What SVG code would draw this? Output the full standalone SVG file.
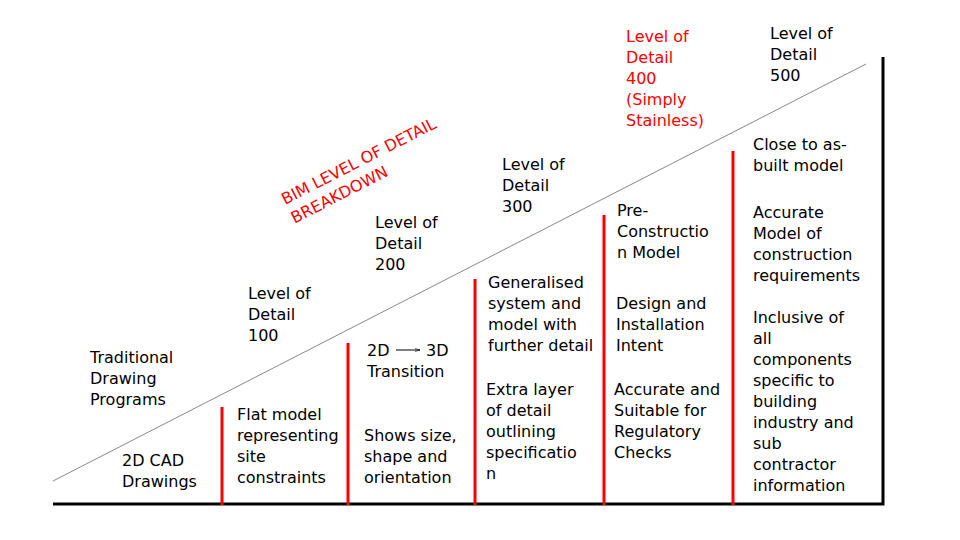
<svg xmlns="http://www.w3.org/2000/svg" width="960" height="540" viewBox="0 0 960 540">
<style>
text{font-family:"DejaVu Sans","Liberation Sans",sans-serif;font-size:16px;fill:#000}
.red{fill:#ff0000}
.bar{stroke:#ff0000;stroke-width:3}
.axis{stroke:#000;stroke-width:3;fill:none}
</style>
<defs>
<marker id="ah" viewBox="0 0 10 10" refX="10" refY="5" markerWidth="5" markerHeight="5" orient="auto"><path d="M0,2 L10,5 L0,8" fill="none" stroke="#000" stroke-width="1.2"/></marker>
</defs>
<rect width="960" height="540" fill="#fff"/>
<g id="connectors">
<line x1="53" y1="481" x2="866" y2="64" stroke="#888" stroke-width="1"/>
<polyline class="axis" points="53,504 883,504 883,57"/>
<line class="bar" x1="222" y1="407" x2="222" y2="505"/>
<line class="bar" x1="348" y1="343" x2="348" y2="505"/>
<line class="bar" x1="475" y1="279" x2="475" y2="505"/>
<line class="bar" x1="604" y1="215" x2="604" y2="505"/>
<line class="bar" x1="733" y1="151" x2="733" y2="505"/>
</g>
<g id="title"><text class="red" transform="translate(285,205) rotate(-27)"><tspan x="0" y="0">BIM LEVEL OF DETAIL</tspan><tspan x="0" y="21">BREAKDOWN</tspan></text></g>
<g id="traditional"><text><tspan x="90" y="363">Traditional</tspan><tspan x="90" y="384">Drawing</tspan><tspan x="90" y="405">Programs</tspan></text>
<text><tspan x="122" y="466">2D CAD</tspan><tspan x="122" y="487">Drawings</tspan></text></g>
<g id="lod100"><text><tspan x="248" y="299">Level of</tspan><tspan x="248" y="320">Detail</tspan><tspan x="248" y="341">100</tspan></text>
<text><tspan x="237" y="420">Flat model</tspan><tspan x="237" y="441">representing</tspan><tspan x="237" y="462">site</tspan><tspan x="237" y="483">constraints</tspan></text></g>
<g id="lod200"><text><tspan x="375" y="228">Level of</tspan><tspan x="375" y="249">Detail</tspan><tspan x="375" y="270">200</tspan></text>
<text x="367" y="356">2D</text><line x1="396" y1="350" x2="420" y2="350" stroke="#000" stroke-width="1" marker-end="url(#ah)"/><text x="426" y="356">3D</text>
<text x="367" y="377">Transition</text>
<text><tspan x="364" y="441">Shows size,</tspan><tspan x="364" y="462">shape and</tspan><tspan x="364" y="483">orientation</tspan></text></g>
<g id="lod300"><text><tspan x="502" y="170">Level of</tspan><tspan x="502" y="191">Detail</tspan><tspan x="502" y="212">300</tspan></text>
<text><tspan x="488" y="288">Generalised</tspan><tspan x="488" y="309">system and</tspan><tspan x="488" y="330">model with</tspan><tspan x="488" y="351">further detail</tspan></text>
<text><tspan x="486" y="395">Extra layer</tspan><tspan x="486" y="416">of detail</tspan><tspan x="486" y="437">outlining</tspan><tspan x="486" y="458">specificatio</tspan><tspan x="486" y="479">n</tspan></text></g>
<g id="lod400"><text class="red"><tspan x="626" y="42">Level of</tspan><tspan x="626" y="63">Detail</tspan><tspan x="626" y="84">400</tspan><tspan x="626" y="105">(Simply</tspan><tspan x="626" y="126">Stainless)</tspan></text>
<text><tspan x="617" y="216">Pre-</tspan><tspan x="617" y="237">Constructio</tspan><tspan x="617" y="258">n Model</tspan></text>
<text><tspan x="616" y="309">Design and</tspan><tspan x="616" y="330">Installation</tspan><tspan x="616" y="351">Intent</tspan></text>
<text><tspan x="614" y="395">Accurate and</tspan><tspan x="614" y="416">Suitable for</tspan><tspan x="614" y="437">Regulatory</tspan><tspan x="614" y="458">Checks</tspan></text></g>
<g id="lod500"><text><tspan x="770" y="39">Level of</tspan><tspan x="770" y="60">Detail</tspan><tspan x="770" y="81">500</tspan></text>
<text><tspan x="753" y="150">Close to as-</tspan><tspan x="753" y="171">built model</tspan></text>
<text><tspan x="753" y="218">Accurate</tspan><tspan x="753" y="239">Model of</tspan><tspan x="753" y="260">construction</tspan><tspan x="753" y="281">requirements</tspan></text>
<text><tspan x="753" y="323">Inclusive of</tspan><tspan x="753" y="344">all</tspan><tspan x="753" y="365">components</tspan><tspan x="753" y="386">specific to</tspan><tspan x="753" y="407">building</tspan><tspan x="753" y="428">industry and</tspan><tspan x="753" y="449">sub</tspan><tspan x="753" y="470">contractor</tspan><tspan x="753" y="491">information</tspan></text></g>
</svg>
